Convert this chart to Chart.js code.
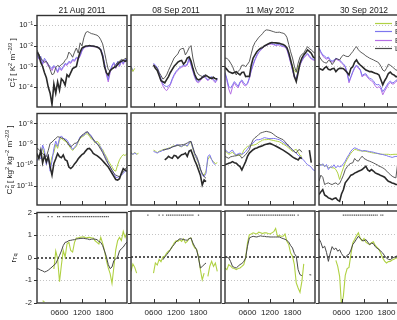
<!DOCTYPE html>
<html>
<head>
<meta charset="utf-8">
<script src="https://cdn.jsdelivr.net/npm/chart.js@4.4.1/dist/chart.umd.min.js"></script>
<style>
  html, body { margin: 0; padding: 0; background: #fff; overflow: hidden; width: 397px; height: 320px; }
  body { position: relative; font-family: "Liberation Sans", Arial, sans-serif; color: #222; }
  canvas { position: absolute; }
  .title { position: absolute; font-size: 8.5px; transform: translate(-50%, -50%); white-space: nowrap; }
  .ylab { position: absolute; font-size: 8px; transform: translate(-50%, -50%) rotate(-90deg); white-space: nowrap; }
  .ylab sup { font-size: 0.7em; vertical-align: 0.5em; line-height: 0; }
  .ylab sub { font-size: 0.7em; vertical-align: -0.3em; line-height: 0; }
  .ss { display: inline-flex; flex-direction: column; vertical-align: middle; font-size: 0.7em; line-height: 0.95; margin-left: 0.5px; }
</style>
</head>
<body>
<script>
const N = null;

// time of day, hours
const hours = [0,0.5,1,1.5,2,2.5,3,3.5,4,4.5,5,5.5,6,6.5,7,7.5,8,8.5,9,9.5,10,10.5,11,11.5,
               12,12.5,13,13.5,14,14.5,15,15.5,16,16.5,17,17.5,18,18.5,19,19.5,20,20.5,21,21.5,22,22.5,23,23.5,24];
const hourTicks = [6, 12, 18];
const hourLabels = ['0600', '1200', '1800'];

const dates = ['21 Aug 2011', '08 Sep 2011', '11 May 2012', '30 Sep 2012'];
const legendLabels = ['EC1', 'EC2', 'EC3', 'LAS'];

// row 1: log10 of C_T^2
const ctTicks = [1e-1, 1e-2, 1e-3, 1e-4];
const ctBlack = [
  [-2.3,-2.45,-2.8,-3.0,-3.3,-3.55,-4.0,-4.3, -4.85,-3.85,-4.3,-3.75,-4.15,-3.6,-3.7,-3.9, -3.4,-3.5,-3.3,-3.1,-3.05,-3.0,-2.6,-2.3, -2.1,-2.05,-2.0,-2.0,-1.98,-2.0,-2.0,-2.03, -2.05,-2.1,-2.2,-2.5,-3.0,-3.3,-3.42,-3.2, -3.12,-3.05,-3.02,-2.9,-2.8,-2.75,-2.7,-2.75,-2.7],
  [N,N,N,N,N,N,N,N, N,N,N,N,-2.94,-3.1,-3.2,-3.45, -3.7,-3.75,-3.8,-3.65,-3.5,-3.3,-3.15,-3.0, -2.9,-2.8,-2.75,-2.72,-2.9,-2.8,-2.6,-2.55, -2.75,-3.1,-3.4,-3.6,-3.66,-3.62,-3.55,-3.5, -3.45,-3.5,-3.55,-3.6,-3.55,-3.6,-3.6,N,N],
  [-3.05,-3.15,-3.26,-3.3,-3.34,-3.3,-3.26,-3.35, -3.42,-3.3,-3.28,-3.5,-3.48,-3.5,-2.95,-2.6, -2.45,-2.3,-2.2,-2.13,-2.1,-2.02,-1.97,-1.92, -1.88,-1.85,-1.86,-1.87,-1.88,-1.89,-1.92,-1.95, -2.0,-2.1,-2.35,-2.7,-3.05,-3.5,-3.74,-3.3, -2.85,-2.6,-2.45,-2.35,-2.21,-2.28,-2.37,-2.55,-2.61],
  [-3.1,-3.14,-3.18,-3.08,-3.02,-3.15,-3.18,-3.12, -3.1,-3.26,-3.15,-3.1,-3.1,-3.12,-3.2,-3.3, -3.42,-3.1,-3.02,-2.8,-2.69,-2.85,-2.94,-3.02, -3.1,-3.18,-3.22,-3.26,-3.26,-3.3,-3.34,-3.36, -3.42,-3.65,-3.9,-3.7,-3.55,-3.35,-3.28,-3.38, -3.42,-3.5,-3.5]
];
const ctGray = [
  [-2.2,-2.4,-2.6,-2.7,-2.8,-2.75,-2.9,-3.15, -3.4,-3.35,-3.05,-2.95,-3.0,-2.9,-2.85,-2.7, -2.6,-2.3,-2.4,-2.55,-2.3,-2.1,-2.35,-1.85, -2.0,-1.6,-1.35,-1.3,-1.35,-1.4,-1.42,-1.45, -1.48,-1.55,-1.7,-1.9,-2.3,-2.75,-3.15,-3.2, -3.1,-3.05,-2.9,-2.8,-2.75,-2.65,-2.7,-2.6,-2.65],
  [N,N,N,N,N,N,N,N, N,N,N,N,-2.94,-3.0,-3.1,-3.3, -3.45,-3.62,-3.55,-3.42,-3.2,-3.0,-2.8,-2.6, -2.5,-2.4,-2.2,-2.15,-2.13,-2.45,-2.3,-2.1, -2.0,-2.6,-3.0,-3.26,-3.4,-3.45,-3.5,-3.45, -3.4,-3.5,-3.6,-3.55,-3.5,-3.6,-3.66,N,N],
  [-2.6,-2.62,-2.7,-2.85,-3.0,-3.25,-3.42,-3.25, -3.15,-2.95,-2.95,-3.02,-2.9,-2.77,-2.4,-2.05, -1.85,-1.73,-1.6,-1.52,-1.42,-1.3,-1.24,-1.25, -1.27,-1.3,-1.33,-1.36,-1.36,-1.35,-1.38,-1.4, -1.45,-1.6,-1.95,-2.3,-2.6,-3.0,-3.26,-2.85, -2.55,-2.42,-2.37,-2.2,-2.05,-2.15,-2.21,-2.3,-2.37],
  [-2.5,-2.65,-2.77,-2.82,-2.85,-2.72,-2.75,-2.92, -2.8,-2.62,-2.66,-2.69,-2.55,-2.45,-2.5,-2.53, -2.52,-2.4,-2.29,-2.15,-2.05,-2.2,-2.3,-2.36, -2.42,-2.5,-2.55,-2.61,-2.65,-2.69,-2.74,-2.78, -2.85,-3.0,-3.18,-3.24,-3.1,-2.9,-2.95,-3.02, -3.1,-3.18,-3.2]
];
const ctBlue = [
  [-2.4,-2.6,-2.5,-2.85,-2.6,-2.75,-2.9,-3.0, -3.1,-2.95,-3.05,-3.25,-3.0,-3.15,-3.0,-2.85, -2.9,-2.75,-2.8,-2.65,-2.7,-2.55,-2.6,-2.45, -2.2,-2.08,-2.03,-2.02,-2.0,-2.0,-2.02,-2.02, -2.05,-2.08,-2.15,-2.4,-2.85,-3.3,-3.65,-3.2, -2.95,-2.8,-3.05,-2.75,-2.95,-2.7,-2.85,-2.65,-2.7],
  [-3.0,-3.2,N,N,N,N,N,N, N,N,N,N,-2.85,-2.95,-3.05,-3.3, -3.6,-3.85,-3.95,-3.98,-3.95,-3.85,-3.6,-3.4, -3.25,-3.15,-3.05,-3.0,-2.95,-2.95,-2.9,-2.6, -2.9,-3.2,-3.5,-3.7,-3.74,-3.6,-3.5,-3.42, -3.55,-3.66,-3.55,-3.5,-3.65,-3.74,-3.58,N,N],
  [-3.3,-3.6,-3.98,-4.05,-3.9,-3.74,-3.85,-3.98, -3.75,-3.66,-3.8,-3.9,-3.82,-3.55,-3.18,-2.9, -2.65,-2.45,-2.3,-2.21,-2.1,-2.03,-1.97,-1.92, -1.9,-1.9,-1.93,-1.97,-1.95,-1.94,-2.0,-2.02, -2.04,-2.15,-2.45,-2.8,-3.15,-3.5,-3.6,-3.2, -2.9,-2.72,-2.55,-2.45,-2.37,-2.5,-2.61,-2.66,-2.69],
  [-2.1,-2.3,-2.45,-2.5,-2.61,-2.55,-2.7,-2.75, -2.7,-2.61,-2.65,-2.69,-2.8,-2.88,-3.0,-3.3, -3.72,-3.5,-3.26,-3.05,-2.94,-3.05,-3.15,-3.45, -3.38,-3.36,-3.5,-3.58,-3.62,-3.7,-3.85,-3.9, -3.88,-4.0,-4.23,-4.1,-3.95,-3.8,-3.72,-3.8, -3.78,-3.68,-3.65]
];
const ctViolet = [
  [-2.45,-2.65,-2.6,-2.9,-2.7,-2.8,-3.0,-3.05, -3.2,-3.0,-3.1,-3.3,-3.1,-3.2,-3.05,-2.9, -2.95,-2.8,-2.85,-2.7,-2.75,-2.6,-2.65,-2.5, -2.25,-2.1,-2.05,-2.04,-2.02,-2.02,-2.04,-2.04, -2.07,-2.1,-2.2,-2.45,-2.9,-3.4,-3.75,-3.3, -3.0,-2.85,-3.1,-2.8,-3.0,-2.75,-2.9,-2.7,-2.75],
  [-3.05,-3.25,N,N,N,N,N,N, N,N,N,N,-2.9,-3.0,-3.1,-3.4, -3.7,-3.95,-4.1,-4.18,-4.05,-3.9,-3.65,-3.45, -3.3,-3.2,-3.1,-3.05,-3.0,-3.0,-2.95,-2.65, -2.95,-3.25,-3.55,-3.75,-3.8,-3.7,-3.55,-3.5, -3.6,-3.7,-3.6,-3.55,-3.7,-3.8,-3.62,N,N],
  [-3.35,-3.7,-4.1,-4.35,-4.0,-3.8,-3.95,-4.05, -3.8,-3.72,-3.9,-3.95,-3.85,-3.6,-3.22,-2.95, -2.7,-2.5,-2.33,-2.24,-2.12,-2.05,-1.99,-1.95, -1.93,-1.93,-1.96,-2.0,-1.98,-1.97,-2.03,-2.05, -2.07,-2.2,-2.5,-2.85,-3.2,-3.55,-3.65,-3.25, -2.95,-2.75,-2.6,-2.5,-2.42,-2.55,-2.65,-2.7,-2.72],
  [-2.15,-2.35,-2.5,-2.6,-2.66,-2.6,-2.75,-2.8, -2.75,-2.66,-2.7,-2.74,-2.85,-2.92,-3.05,-3.35, -3.8,-3.55,-3.3,-3.1,-2.98,-3.1,-3.2,-3.52, -3.42,-3.42,-3.56,-3.65,-3.7,-3.8,-3.95,-4.05, -3.98,-4.1,-4.38,-4.2,-4.05,-3.88,-3.78,-3.86, -3.85,-3.74,-3.7]
];
const ctGreen = [
  [],
  [-3.05,-3.25,-3.1],
  [N,N,N,N,N,N,N,N, N,N,N,N,N,N,N,N, N,N,N,N,N,N,N,N, N,N,N,N,N,N,N,N, N,N,N,-2.75,-3.0,-3.2,-3.3,-3.05, -2.85],
  []
];

// row 2: log10 of C_q^2
const cqTicks = [1e-8, 1e-9, 1e-10, 1e-11];
const cqBlack = [
  [-9.45,-9.69,-9.3,-9.9,-9.55,-9.85,-9.6,-10.09, -10.49,-9.93,-9.7,-9.45,-9.6,-9.65,-9.52,-9.75, -9.8,-10.1,-10.17,-10.09,-9.95,-9.85,-9.7,-9.6, -9.5,-9.44,-9.32,-9.22,-9.2,-9.3,-9.44,-9.5, -9.55,-9.62,-9.7,-9.8,-9.9,-10.0,-10.1,-10.25, -10.4,-10.55,-10.7,-10.73,-10.66,-10.4,-10.17,-10.25,-10.3],
  [N,N,N,N,N,N,N,N, N,N,N,N,N,N,N,N, N,N,-9.77,-9.7,-9.6,-9.66,-9.69,-9.55, -9.58,-9.69,-9.6,-9.52,-9.5,-9.44,-9.6,-9.35, -9.3,-9.55,-9.8,-10.0,-10.25,-10.5,-10.97,-10.73, -10.81],
  [-10.0,-9.97,-9.93,-9.9,-9.85,-9.9,-9.93,-10.02, -10.09,-10.25,-10.05,-9.85,-9.6,-9.44,-9.36,-9.28, -9.22,-9.2,-9.15,-9.12,-9.09,-9.04,-9.02,-9.0, -8.98,-9.02,-9.06,-9.1,-9.15,-9.2,-9.25,-9.3, -9.36,-9.42,-9.48,-9.55,-9.62,-9.68,-9.72,-9.77, -9.65,-9.7,N,N,N,-9.3,-9.9],
  [-11.43,-11.3,-11.19,-11.45,-11.51,-11.59,-11.62,-11.67, -11.62,-11.59,-11.7,-11.75,-11.4,-11.2,-10.87,-10.75, -10.63,-10.5,-10.47,-10.4,-10.36,-10.31,-10.28,-10.23, -10.15,-10.07,-10.25,-10.31,-10.23,-10.3,-10.39,-10.43, -10.47,-10.52,-10.55,-10.6,-10.7,-10.79,-10.83,-10.87, -10.9,-10.95,-10.95]
];
const cqGray = [
  [-9.2,-9.25,-9.35,-9.44,-9.55,-9.6,-9.3,-8.96, -8.9,-8.8,-8.72,-8.64,-8.66,-8.7,-8.72,-8.8, -8.9,-9.05,-9.12,-9.05,-8.96,-8.95,-8.85,-8.7, -8.56,-8.5,-8.42,-8.4,-8.55,-8.65,-8.75,-8.88, -8.96,-9.1,-9.25,-9.4,-9.6,-9.8,-9.95,-10.09, -10.25,-10.4,-10.49,-10.53,-10.57,-10.45,-10.33,-10.2,-10.1],
  [N,N,N,N,N,N,N,N, N,N,N,N,N,N,N,N, N,-9.3,-9.28,-9.25,-9.24,-9.2,-9.15,-9.12, -9.1,-9.06,-9.06,-9.04,-9.04,-9.0,-8.96,-8.9, -8.88,-9.16,-9.45,-9.6,-9.85,-10.2,-10.41,-10.57, -10.65],
  [-9.6,-9.65,-9.69,-9.62,-9.6,-9.58,-9.57,-9.52, -9.55,-9.69,-9.6,-9.52,-9.4,-9.28,-9.0,-8.8, -8.7,-8.64,-8.55,-8.48,-8.45,-8.42,-8.4,-8.42, -8.44,-8.48,-8.55,-8.62,-8.68,-8.72,-8.76,-8.8, -8.9,-9.0,-9.1,-9.2,-9.28,-9.38,-9.44,-9.3, -9.28,-9.4],
  [-10.79,-10.5,-10.6,-10.95,-10.9,-10.87,-10.92,-10.95, -10.9,-10.87,-10.95,-10.9,-10.71,-10.5,-10.23,-10.1, -9.99,-9.93,-9.91,-9.7,-9.8,-9.83,-9.7,-9.59, -9.7,-9.75,-9.8,-9.83,-9.87,-9.91,-9.96,-10.0, -10.07,-10.1,-10.15,-10.2,-10.3,-10.39,-10.47,-10.55, -10.6,-10.63,-9.9]
];
const cqBlue = [
  [-9.8,-9.6,-9.7,-9.04,-9.3,-10.0,-9.5,-10.3, -9.8,-9.2,-8.85,-9.1,-8.7,-8.6,-8.72,-8.75, -8.8,-8.95,-9.1,-9.25,-9.15,-9.04,-8.85,-8.64, -8.6,-8.56,-8.45,-8.42,-8.5,-8.6,-8.8,-8.9, -8.98,-9.05,-9.15,-9.35,-9.52,-9.7,-9.93,-10.09, -10.25,-10.4,-10.6,-10.6,-10.55,-10.5,-10.41,-10.3,-10.25],
  [-9.44,-9.5,-9.44,-9.5,N,N,N,N, N,N,N,N,-9.36,-9.4,-9.44,-9.38, -9.36,-9.3,-9.28,-9.25,-9.22,-9.2,-9.15,-9.12, -9.06,-9.04,-9.1,-9.12,-9.06,-9.04,-9.1,-8.95, -8.88,-9.2,-9.5,-9.69,-9.9,-10.2,-10.5,-10.57, -10.41,-9.6,-9.52,-9.75,-9.93,-10.0],
  [-9.28,-9.35,-9.44,-9.35,-9.3,-9.45,-9.52,-9.48, -9.44,-9.5,-9.45,-9.36,-9.25,-9.12,-9.02,-8.96, -8.85,-8.8,-8.8,-8.78,-8.74,-8.7,-8.72,-8.74, -8.75,-8.74,-8.74,-8.75,-8.78,-8.8,-8.85,-8.92, -8.98,-9.05,-9.12,-9.2,-9.28,-9.38,-9.44,-9.55, -9.6,-9.7,-9.78,-9.9,-10.0,-10.05,-10.12,-10.25,-10.28],
  [-9.91,-10.05,-9.95,-10.1,-9.99,-10.23,-10.1,-10.12, -10.0,-10.15,-10.05,-10.1,-10.07,-9.95,-9.83,-9.65, -9.51,-9.35,-9.25,-9.19,-9.22,-9.27,-9.3,-9.35, -9.32,-9.33,-9.35,-9.37,-9.38,-9.4,-9.43,-9.45, -9.47,-9.5,-9.51,-9.54,-9.56,-9.6,-9.62,-9.65, -9.62,-9.6,-9.6]
];
const cqGreen = [
  [-9.5,-9.7,-9.4,-9.2,-9.5,-9.8,-9.7,-10.0, -9.6,-9.4,-9.0,-9.2,-8.8,-8.7,-8.8,-8.85, -8.9,-9.05,-9.2,-9.3,-9.2,-9.1,-8.9,-8.7, -8.65,-8.6,-8.5,-8.5,-8.62,-8.75,-8.8,-8.95, -8.85,-8.95,-9.2,-9.25,-9.45,-9.6,-9.8,-9.95, -10.1,-10.25,-10.3,-10.0,-9.75,-9.6,-9.5,-9.55,-9.44],
  [-9.4,-9.52,-9.4,-9.5,-9.45,N,N,N, N,N,N,N,-9.3,-9.35,-9.42,-9.35, -9.32,-9.28,-9.25,-9.25,-9.2,-9.18,-9.12,-9.1, -9.08,-9.06,-9.12,-9.14,-9.08,-9.06,-9.12,-9.0, -8.92,-9.25,-9.55,-9.72,-9.95,-10.25,-10.45,-10.5, -10.3,-9.75,-9.6,-9.75,-9.85,-9.95,-9.9],
  [-9.35,-9.4,-9.5,-9.45,-9.4,-9.5,-9.55,-9.55, -9.52,-9.52,-9.3,-9.2,-9.12,-9.1,-9.08,-9.06, -9.04,-9.0,-8.92,-8.88,-8.82,-8.8,-8.8,-8.78, -8.8,-8.82,-8.84,-8.86,-8.88,-8.9,-8.95,-9.0, -9.06,-9.12,-9.2,-9.28,-9.36,-9.3,-9.26,-9.4, -9.55,-9.6],
  [-9.95,-10.0,-10.0,-10.05,-10.05,-10.15,-10.12,-10.15, -10.15,-10.23,-10.4,-10.71,-10.4,-10.15,-9.91,-9.75, -9.59,-9.45,-9.35,-9.27,-9.28,-9.32,-9.33,-9.34, -9.35,-9.36,-9.38,-9.4,-9.42,-9.44,-9.45,-9.46, -9.48,-9.49,-9.5,-9.5,-9.5,-9.5,-9.52,-9.51, -9.5,-9.5,-9.5]
];

// row 3: correlation r_Tq
const rTicks = [-2, -1, 0, 1, 2];
const rGray = [
  [-0.48,-0.5,-0.55,-0.58,-0.63,-0.6,-0.55,-0.48, -0.41,-0.33,-0.26,-0.08,0.1,0.3,0.54,0.68, 0.7,0.76,0.77,0.79,0.8,0.83,0.84,0.85, 0.86,0.86,0.84,0.83,0.8,0.82,0.83,0.82, 0.8,0.72,0.68,0.54,0.3,0.05,-0.3,-0.48, -0.41,-0.12,-0.05,0.03,0.3,0.4,0.47,0.6,0.7],
  [N,N,N,N,N,N,N,N, N,N,N,N,N,N,N,N, N,-0.12,0.0,0.1,0.2,0.32,0.45,0.54, 0.66,0.73,0.79,0.78,0.76,0.74,0.73,0.8, 0.83,0.61,0.45,0.32,-0.04,-0.48,-0.41,-0.33, -0.26],
  [0.0,0.0,-0.04,-0.2,-0.41,-0.45,-0.48,-0.4, -0.33,-0.28,-0.2,-0.04,0.47,0.83,0.87,0.9, 0.88,0.87,0.9,0.92,0.9,0.9,0.88,0.88, 0.87,0.87,0.87,0.87,0.87,0.87,0.83,0.8, 0.77,0.72,0.65,0.5,0.39,0.15,0.03,-0.55, -0.77,-0.81,N,N,N,-0.77,-0.78],
  [0.8,0.63,0.39,0.47,0.2,-0.19,0.17,0.45, 0.32,0.39,0.25,0.32,0.15,0.03,-0.04,0.08, 0.12,0.3,0.54,0.65,0.78,0.9,0.8,0.72, 0.7,0.76,0.65,0.54,0.6,0.58,0.45,0.38, 0.32,0.25,0.17,0.05,-0.05,-0.1,-0.12,-0.05, -0.02,0.03,0.05]
];
const rGreen = [
  [N,N,N,-1.9,-1.95,N,N,N, N,-0.5,0.3,-0.05,-1.06,-0.33,0.32,0.03, 0.61,0.68,0.32,0.25,0.68,0.87,0.88,0.9, 0.92,0.93,0.87,0.89,0.9,0.88,0.87,0.75, 0.68,0.61,0.9,0.65,0.3,-0.12,-0.45,-0.7, -1.13,-0.41,0.35,0.75,0.9,0.76,1.16,0.9,1.12],
  [-0.63,-0.3,-0.45,-0.7,N,N,N,N, N,N,N,N,-0.7,-0.26,-0.35,-0.1, -0.2,0.0,0.03,0.17,0.25,0.32,0.45,0.61, 0.7,0.68,0.76,0.68,0.79,0.61,0.68,0.8, 0.83,0.54,0.4,0.32,0.03,-0.55,-0.99,-0.7, N,-0.84,-0.41,-0.19,-0.41,-0.26,-0.63],
  [-0.48,-0.55,-0.33,-0.4,-0.48,-0.5,-0.55,-0.5, -0.48,-0.41,-0.33,-0.04,0.61,0.97,1.0,1.05, 1.02,1.0,1.08,1.05,1.02,1.05,1.05,1.02, 1.0,1.05,1.1,1.24,0.9,0.93,0.9,0.9, 1.0,0.68,0.54,0.17,0.03,-0.33,-1.13,-1.35, -1.54,-1.06,-0.3],
  [N,N,N,N,N,N,N,N, N,-0.15,-0.41,-0.84,-2.1,-1.7,-0.8,-0.5, -0.45,0.1,0.61,0.76,0.92,1.05,0.82,0.7, 0.8,0.65,0.58,0.54,0.62,0.66,0.5,0.42, 0.33,0.15,-0.04,-0.18,-0.26,-0.2,-0.19,-0.13, -0.1,-0.05,-0.03]
];
// hours with significant correlation (markers near the top of row 3)
const sigHours = [
  [3,4,5.5,6,7,7.5,8,8.5,9,9.5,10,10.5,11,11.5,12,12.5,13,13.5,14,14.5,15,15.5,16,16.5,17,17.5,18,18.5,19],
  [4.5,7.5,8.5,9.5,10,10.5,11,11.5,12,12.5,13,13.5,14,14.5,15,15.5,16,16.5,18],
  [6,6.5,7,7.5,8,8.5,9,9.5,10,10.5,11,11.5,12,12.5,13,13.5,14,14.5,15,15.5,16,16.5,17,17.5,18,18.5,19.5],
  [6.5,7,7.5,8,8.5,9,9.5,10,10.5,11,11.5,12,12.5,13,13.5,14,14.5,15,15.5,16.5,17]
];
const sigLevel = 1.82;

// colours
const cGreen = '#b0d143';
const cBlue = '#7d76ee';
const cViolet = '#b56ee4';
const cGray = '#474747';
const cBlack = '#2a2a2a';
const legendColors = [cGreen, cBlue, cViolet, '#4a4a4a'];

// layout
const colLeft = [37, 131, 225, 319];
const rowTop = [15, 113, 211];
const panelW = 90, panelH = 92;
const padL = 36, padT = 8, padR = 6, padB = 16;

Chart.defaults.font.family = '"Liberation Sans", Arial, sans-serif';
Chart.defaults.font.size = 7.5;
Chart.defaults.color = '#222';

const supMap = {'-': '\u207B', '0': '\u2070', '1': '\u00B9', '2': '\u00B2', '3': '\u00B3', '4': '\u2074',
                '5': '\u2075', '6': '\u2076', '7': '\u2077', '8': '\u2078', '9': '\u2079'};
function powLabel(v) {
  const e = String(Math.round(Math.log10(v)));
  return '10' + e.split('').map(c => supMap[c]).join('');
}

function toPts(vals, isLog) {
  return vals.map((v, i) => ({x: hours[i], y: v === null ? null : (isLog ? Math.pow(10, v) : v)}));
}

function line(vals, color, width, isLog) {
  return {
    data: toPts(vals, isLog),
    borderColor: color,
    borderWidth: width,
    pointRadius: 0,
    tension: 0,
    fill: false,
    clip: 0
  };
}

function panelPlugin(row, col) {
  const gridVals = row === 0 ? ctTicks : row === 1 ? cqTicks : [1, -1];
  const yTickVals = row === 0 ? ctTicks : row === 1 ? cqTicks : rTicks;
  return {
    id: 'panel',
    beforeDatasetsDraw(chart) {
      const {ctx, chartArea: a, scales: {y}} = chart;
      ctx.save();
      ctx.strokeStyle = '#b5b5b5';
      ctx.lineWidth = 0.8;
      ctx.setLineDash([1, 2]);
      gridVals.forEach(v => {
        const py = Math.round(y.getPixelForValue(v)) + 0.5;
        ctx.beginPath(); ctx.moveTo(a.left, py); ctx.lineTo(a.right, py); ctx.stroke();
      });
      if (row === 2) {
        const py = Math.round(y.getPixelForValue(0));
        ctx.strokeStyle = '#111';
        ctx.lineWidth = 1.4;
        ctx.setLineDash([2, 2]);
        ctx.beginPath(); ctx.moveTo(a.left, py); ctx.lineTo(a.right, py); ctx.stroke();
      }
      ctx.restore();
    },
    afterDatasetsDraw(chart) {
      const {ctx, chartArea: a, scales: {x, y}} = chart;
      ctx.save();
      ctx.strokeStyle = '#333';
      ctx.lineWidth = 1.4;
      ctx.strokeRect(a.left, a.top, a.right - a.left, a.bottom - a.top);
      ctx.lineWidth = 1;
      hourTicks.forEach(h => {
        const px = Math.round(x.getPixelForValue(h)) + 0.5;
        ctx.beginPath(); ctx.moveTo(px, a.bottom); ctx.lineTo(px, a.bottom - 4); ctx.stroke();
      });
      yTickVals.forEach(v => {
        const py = Math.round(y.getPixelForValue(v)) + 0.5;
        ctx.beginPath(); ctx.moveTo(a.left - 3, py); ctx.lineTo(a.left, py); ctx.stroke();
      });
      if (row === 0 && col === 3) {
        ctx.font = '7.5px "Liberation Sans", Arial, sans-serif';
        ctx.fillStyle = '#222';
        ctx.textBaseline = 'middle';
        legendLabels.forEach((lab, i) => {
          const ly = Math.round(a.top + 8 + i * 8.3) + 0.5;
          ctx.strokeStyle = legendColors[i];
          ctx.lineWidth = 1.2;
          ctx.beginPath(); ctx.moveTo(a.left + 56, ly); ctx.lineTo(a.left + 73, ly); ctx.stroke();
          ctx.fillText(lab, a.left + 76, ly);
        });
      }
      ctx.restore();
    }
  };
}

function makePanel(row, col) {
  const cv = document.createElement('canvas');
  cv.width = padL + panelW + padR;
  cv.height = padT + panelH + padB;
  cv.style.left = (colLeft[col] - padL) + 'px';
  cv.style.top = (rowTop[row] - padT) + 'px';
  document.body.appendChild(cv);

  let datasets;
  if (row === 0) {
    datasets = [
      line(ctBlack[col], cBlack, 1.6, true),
      line(ctGray[col], cGray, 0.9, true),
      line(ctGreen[col], cGreen, 1, true),
      line(ctBlue[col], cBlue, 1, true),
      line(ctViolet[col], cViolet, 1, true)
    ];
  } else if (row === 1) {
    datasets = [
      line(cqBlack[col], cBlack, 1.6, true),
      line(cqGray[col], cGray, 0.9, true),
      line(cqBlue[col], cBlue, 1, true),
      line(cqGreen[col], cGreen, 1, true)
    ];
  } else {
    datasets = [
      {
        data: sigHours[col].map(h => ({x: h, y: sigLevel})),
        showLine: false,
        pointStyle: 'rect',
        pointRadius: 0.9,
        pointBorderWidth: 0,
        backgroundColor: '#5a5a5a',
        borderColor: '#5a5a5a',
        clip: 0
      },
      line(rGray[col], cGray, 1, false),
      line(rGreen[col], cGreen, 1.1, false)
    ];
  }

  const yScale = row === 2 ? {
    type: 'linear', min: -2, max: 2,
    afterBuildTicks: s => { s.ticks = rTicks.map(v => ({value: v})); },
    ticks: {display: col === 0, padding: 5, autoSkip: false, callback: v => String(v)}
  } : {
    type: 'logarithmic',
    min: row === 0 ? Math.pow(10, -4.97) : Math.pow(10, -11.93),
    max: row === 0 ? Math.pow(10, -0.52) : Math.pow(10, -7.52),
    afterBuildTicks: s => { s.ticks = (row === 0 ? ctTicks : cqTicks).map(v => ({value: v})); },
    ticks: {display: col === 0, padding: 4, autoSkip: false, callback: v => powLabel(v)}
  };
  yScale.grid = {display: false, drawTicks: false};
  yScale.border = {display: false};
  yScale.afterFit = s => { s.width = padL; };

  new Chart(cv, {
    type: 'line',
    data: {datasets},
    options: {
      responsive: false,
      animation: false,
      events: [],
      layout: {padding: {left: 0, top: padT, right: padR, bottom: 0}},
      plugins: {legend: {display: false}, tooltip: {enabled: false}},
      scales: {
        x: {
          type: 'linear', min: 0, max: 24,
          afterBuildTicks: s => { s.ticks = hourTicks.map(v => ({value: v})); },
          ticks: {display: row === 2, padding: 5, maxRotation: 0, autoSkip: false,
                  font: {size: 8}, callback: v => hourLabels[hourTicks.indexOf(v)]},
          grid: {display: false, drawTicks: false},
          border: {display: false},
          afterFit: s => { s.height = padB; }
        },
        y: yScale
      }
    },
    plugins: [panelPlugin(row, col)]
  });
}

for (let r = 0; r < 3; r++) {
  for (let c = 0; c < 4; c++) makePanel(r, c);
}

// column titles
dates.forEach((d, c) => {
  const t = document.createElement('div');
  t.className = 'title';
  t.textContent = d;
  t.style.left = (colLeft[c] + panelW / 2) + 'px';
  t.style.top = '10px';
  document.body.appendChild(t);
});

// y axis titles
const yTitles = [
  {html: 'C<span class="ss"><span>2</span><span>T</span></span> [ K<sup>2</sup> m<sup>\u22122/3</sup> ]', x: 13, y: 63},
  {html: 'C<span class="ss"><span>2</span><span>q</span></span> [ kg<sup>2</sup> kg<sup>\u22122</sup> m<sup>\u22122/3</sup> ]', x: 10, y: 160},
  {html: 'r<sub>Tq</sub>', x: 13, y: 258}
];
yTitles.forEach(t => {
  const d = document.createElement('div');
  d.className = 'ylab';
  d.innerHTML = t.html;
  d.style.left = t.x + 'px';
  d.style.top = t.y + 'px';
  document.body.appendChild(d);
});
</script>
</body>
</html>
